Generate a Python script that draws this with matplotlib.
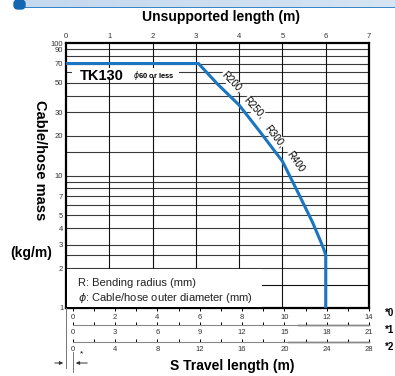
import matplotlib.pyplot as plt
import matplotlib.patches as patches
import numpy as np

W, H = 395, 376

# unsupported length (m) vs cable/hose mass (kg/m)
curve_x = [0, 3.06, 3.5, 4.0, 4.5, 5.0, 5.4, 5.7, 5.88, 5.97, 6.0, 6.0]
curve_y = [70, 70, 49, 34, 21, 12.8, 7.0, 4.4, 3.2, 2.7, 2.5, 1]

top_ticks = [0, 1, 2, 3, 4, 5, 6, 7]
y_labels = [100, 90, 70, 50, 30, 20, 10, 7, 5, 4, 3, 2, 1]
y_grid = [2, 2.5, 3, 4, 5, 6, 7, 8, 9, 10, 15, 20, 30, 40, 50, 60, 70, 80, 90]

# travel length scales
travel_scales = [("*0", 14, 2, 1), ("*1", 21, 3, 1.5), ("*2", 28, 4, 2)]
bend_labels = ["R200,", "R250,", "R300,", "R400"]

FONT = ["Liberation Sans", "DejaVu Sans"]
NARROW = ["Liberation Sans Narrow", "Liberation Sans", "DejaVu Sans"]
BLUE = "#1a76c0"


def px(x, y):
    return x / W, 1 - y / H


fig = plt.figure(figsize=(W / 100, H / 100), dpi=100)

# header band
hdr = fig.add_axes([25 / W, 1 - 8 / H, 1 - 25 / W, 8 / H])
hdr.imshow(np.linspace(0, 1, 100)[None, :], cmap=plt.matplotlib.colors.LinearSegmentedColormap.from_list(
    "h", ["#c4d8ee", "#d6e4f3"]), aspect="auto", extent=[0, 1, 0, 1])
hdr.axhline(0.05, color=BLUE, lw=1.2)
hdr.axis("off")
fig.patches.append(patches.FancyBboxPatch(px(14, 9), 11 / W, 9 / H, boxstyle="round,pad=0,rounding_size=0.01",
                                          transform=fig.transFigure, color="#1565b0"))

# main chart
ax = fig.add_axes([66 / W, 1 - 308 / H, (369 - 66) / W, (308 - 43) / H])
ax.set_yscale("log")
ax.set_xlim(0, 7)
ax.set_ylim(1, 100)
for v in y_grid:
    ax.axhline(v, color="#3a3a3a", lw=0.8, zorder=1)
for v in top_ticks[1:-1]:
    ax.axvline(v, color="#111111", lw=0.8, zorder=1)
ax.axhline(1.5, color="#111111", lw=0.8, zorder=1)
for s in ax.spines.values():
    s.set_linewidth(1.6)
ax.xaxis.tick_top()
ax.set_xticks(top_ticks)
ax.set_xticklabels([str(t) for t in top_ticks], family=NARROW, fontsize=5.5, color="#333333")
ax.tick_params(axis="x", length=0, pad=2)
ax.set_yticks(y_labels)
ax.set_yticks([], minor=True)
ax.set_yticklabels([str(t) for t in y_labels], family=NARROW, fontsize=5.5, color="#333333")
ax.tick_params(axis="y", length=0, pad=2)

ax.plot(curve_x, curve_y, color=BLUE, lw=2.2, zorder=5, solid_joinstyle="round")

# legend box
ax.add_patch(patches.Rectangle((0.02, 1.02), 4.5, 0.94, facecolor="white", edgecolor="none", zorder=3))
fig.text(*px(78, 283), "R: Bending radius (mm)", family=FONT, fontsize=8, va="center", color="#222222")
fig.text(*px(78, 298), r"$\phi$: Cable/hose outer diameter (mm)", family=FONT, fontsize=8, va="center",
         color="#222222")

# model label
ax.add_patch(patches.Rectangle((0.15, 55), 2.45, 10, facecolor="white", edgecolor="none", zorder=3))
fig.text(*px(80, 76), "TK130", family=FONT, fontsize=10.5, weight="bold", va="center")
fig.text(*px(133, 76), r"$\phi$60 or less", family=FONT, fontsize=5.5, weight="bold", va="center")

# bending radius labels along the curve
for lab, (x, y), r in zip(bend_labels, [(232, 82), (254, 108), (275, 136), (295, 162)], [-46, -48, -52, -55]):
    fig.text(*px(x, y), lab, family=FONT, fontsize=7, rotation=r, rotation_mode="anchor",
             ha="center", va="center", zorder=6,
             bbox=dict(facecolor="white", edgecolor="none", pad=0.3))

# titles
fig.text(*px(221, 17), "Unsupported length (m)", family=FONT, fontsize=10, weight="bold", ha="center", va="center")
fig.text(*px(232, 366), "S Travel length (m)", family=FONT, fontsize=10, weight="bold", ha="center", va="center")
fig.text(*px(40, 160), "Cable/hose mass", family=FONT, fontsize=10.5, weight="bold", ha="center", va="center",
         rotation=-90)
fig.text(*px(31, 253), "(kg/m)", family=FONT, fontsize=10, weight="bold", ha="center", va="center")

# travel length scales
line_y = [308, 325, 342]
for (name, mx, step, minor), yy in zip(travel_scales, line_y):
    sa = fig.add_axes([72.7 / W, 1 - yy / H, 296.3 / W, 0.0001])
    sa.set_xlim(0, mx)
    sa.set_ylim(0, 1)
    sa.set_yticks([])
    for k in ["top", "left", "right"]:
        sa.spines[k].set_visible(False)
    sa.set_facecolor("none")
    sa.set_xticks(np.arange(0, mx + 0.1, step))
    sa.set_xticks(np.arange(0, mx + 0.1, minor), minor=True)
    sa.set_xticklabels([str(int(t)) for t in np.arange(0, mx + 0.1, step)], family=NARROW, fontsize=5.5,
                       color="#333333")
    if name == "*0":
        sa.spines["bottom"].set_visible(False)
        sa.tick_params(axis="x", which="both", direction="out", length=2.5, width=0.7, pad=2)
    else:
        sa.spines["bottom"].set_color("#888888")
        sa.spines["bottom"].set_linewidth(0.8)
        dark = 16 if name == "*1" else 20.3
        sa.plot([dark, mx], [0, 0], color="#333333", lw=1, clip_on=False)
        sa.tick_params(axis="x", which="both", direction="in", length=2.5, width=0.7, pad=3)
    fig.text(*px(390, yy + 5), name, family=FONT, fontsize=7, weight="bold", ha="center", va="center")

# offset marker
ov = fig.add_axes([0, 0, 1, 1])
ov.set_xlim(0, W)
ov.set_ylim(H, 0)
ov.axis("off")
ov.set_facecolor("none")
ov.plot([66, 66], [308, 368], color="#777777", lw=0.7)
ov.plot([73, 73], [352, 372], color="#777777", lw=0.7)
ov.annotate("", xy=(66, 363), xytext=(52, 363), arrowprops=dict(arrowstyle="-|>", color="#333333", lw=0.7,
                                                                mutation_scale=5))
ov.annotate("", xy=(73, 363), xytext=(90, 363), arrowprops=dict(arrowstyle="-|>", color="#333333", lw=0.7,
                                                                mutation_scale=5))
ov.text(82, 354, "*", family=FONT, fontsize=6, ha="center", va="center")

fig.savefig("out.png", dpi=100)
